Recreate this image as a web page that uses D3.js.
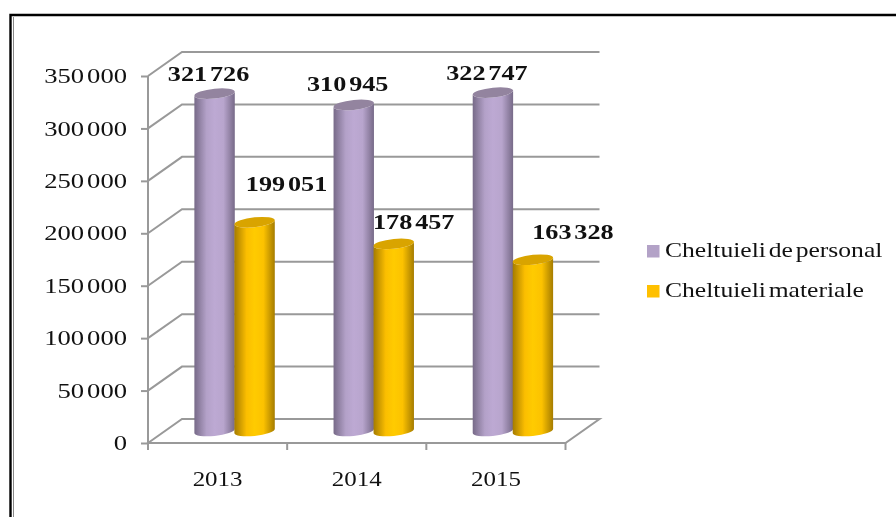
<!DOCTYPE html>
<html><head><meta charset="utf-8">
<script src="https://cdn.jsdelivr.net/npm/d3@7"></script>
<style>
html,body{margin:0;padding:0;background:#fff;overflow:hidden}
svg{display:block;filter:blur(0.4px)}
text{font-family:"Liberation Serif",serif;fill:#111;word-spacing:-0.14em}
</style></head><body>
<svg id="c" width="896" height="517"></svg>
<script>
const years = ["2013","2014","2015"];
const seriesNames = ["Cheltuieli de personal","Cheltuieli materiale"];
const personal = [321726,310945,322747];
const materiale = [199051,178457,163328];
const yTicks = [0,50000,100000,150000,200000,250000,300000,350000];
// manual data-label offsets from the top of each cylinder
const labelDx = [[-6,-6,-6],[32,20,40]];
const labelDy = [[-13,-14,-13],[-31,-15,-21]];

const svg = d3.select("#c");
const fmt = d3.formatLocale({decimal:".",thousands:" ",grouping:[3],currency:["",""]}).format(",d");
const depthX = 34, depthY = 24;
const x = d3.scaleBand().domain(years).range([148,565.5]);
const y = d3.scaleLinear().domain([0,350000]).range([443,76]);
const colorsMain = ["#bda9d3","#ffcb00"];
const colorsEdge = ["#776a88","#a57c00"];
const colorsTop = ["#93849f","#d9a400"];
const colorsLegend = ["#b3a2c7","#ffc000"];

const defs = svg.append("defs");
colorsMain.forEach((c,i)=>{
  const g = defs.append("linearGradient").attr("id","g"+i);
  [[0,colorsEdge[i]],[0.3,i?"#fbbe00":"#b3a1c8"],[0.5,c],[0.72,i?"#fcc200":"#b8a5cd"],[1,colorsEdge[i]]]
    .forEach(s=>g.append("stop").attr("offset",s[0]).attr("stop-color",s[1]));
});

// frame
const frame = svg.append("g").attr("fill","none");
frame.append("path").attr("d","M10.5,517V15H896").attr("stroke","#000").attr("stroke-width",2.4);
frame.append("path").attr("d","M13.5,517V17").attr("stroke","#888").attr("stroke-width",1);

// walls and gridlines
const grid = svg.append("g").attr("fill","none").attr("stroke","#999").attr("stroke-width",2);
yTicks.forEach(v=>{
  const p = d3.path();
  p.moveTo(x.range()[0],y(v));
  p.lineTo(x.range()[0]+depthX,y(v)-depthY);
  p.lineTo(x.range()[1]+depthX,y(v)-depthY);
  if(v===0){p.lineTo(x.range()[1],y(v));p.closePath();}
  grid.append("path").attr("d",p.toString());
});

// axes
const yAxis = svg.append("g").attr("transform","translate(148,0)")
  .call(d3.axisLeft(y).tickValues(yTicks).tickFormat(fmt).tickSize(7).tickPadding(14));
const xAxis = svg.append("g").attr("transform","translate(0,443)")
  .call(d3.axisBottom(x).tickSize(0).tickPadding(28));
xAxis.selectAll(".tick").attr("transform",d=>`translate(${x(d)+x.bandwidth()/2},0)`);
xAxis.selectAll(".xt").data(years.concat("end")).enter().append("line")
  .attr("x1",(d,i)=>x.range()[0]+i*x.step()).attr("x2",(d,i)=>x.range()[0]+i*x.step())
  .attr("y1",0).attr("y2",7).attr("stroke","#999").attr("stroke-width",2);
[yAxis,xAxis].forEach(a=>{
  a.selectAll("path.domain").attr("stroke","#999").attr("stroke-width",2);
  a.selectAll(".tick line").attr("stroke","#999").attr("stroke-width",2);
  a.selectAll("text").attr("font-family","Liberation Serif").attr("fill","#111");
});
yAxis.selectAll("text").attr("font-size",22);
xAxis.selectAll("text").attr("font-size",21.5);
xAxis.select("path.domain").remove();
yAxis.select("path.domain").attr("d",`M0,${y(350000)}V450`);
yAxis.selectAll("text").attr("dy","0.3em");
function widen(sel,k){sel.each(function(){
  const l=this.getComputedTextLength();
  d3.select(this).attr("textLength",l*k).attr("lengthAdjust","spacingAndGlyphs");});}
widen(yAxis.selectAll("text"),1.21);
widen(xAxis.selectAll("text"),1.16);

// cylinders
const rx = 20.2, ry = 4.9, tilt = 2;
const baseY = y(0)-depthY/2;
const groupOffset = [-20,20];
const skew = `${rx},${ry} -6 0`;
[personal,materiale].forEach((vals,s)=>{
  const g = svg.append("g");
  vals.forEach((v,i)=>{
    const cx = x(years[i])+x.bandwidth()/2+depthX/2+groupOffset[s];
    const top = y(v)-depthY/2;
    const L = cx-rx, R = cx+rx;
    g.append("path")
      .attr("d",`M${L},${top+tilt}V${baseY+tilt}A${skew} 0 ${R},${baseY-tilt}V${top-tilt}A${skew} 1 ${L},${top+tilt}Z`)
      .attr("fill",`url(#g${s})`);
    g.append("path")
      .attr("d",`M${L},${top+tilt}A${skew} 1 ${R},${top-tilt}A${skew} 1 ${L},${top+tilt}Z`)
      .attr("fill",colorsTop[s]);
    svg.append("text").attr("class","lab")
      .attr("x",cx+labelDx[s][i]).attr("y",top+labelDy[s][i])
      .attr("text-anchor","middle").attr("font-weight","bold").attr("font-size",22).text(fmt(v));
  });
});
svg.selectAll("text.lab").raise();
widen(svg.selectAll("text.lab"),1.19);

// legend
const legendTop = d3.scalePoint().domain(seriesNames).range([245,285]);
const leg = svg.append("g");
seriesNames.forEach((n,i)=>{
  leg.append("rect").attr("x",647).attr("y",legendTop(n)).attr("width",12.5).attr("height",12.5).attr("fill",colorsLegend[i]);
  leg.append("text").attr("x",665).attr("y",legendTop(n)+12).attr("font-size",21.5).text(n);
});
widen(leg.selectAll("text"),1.19);
</script>
</body></html>
